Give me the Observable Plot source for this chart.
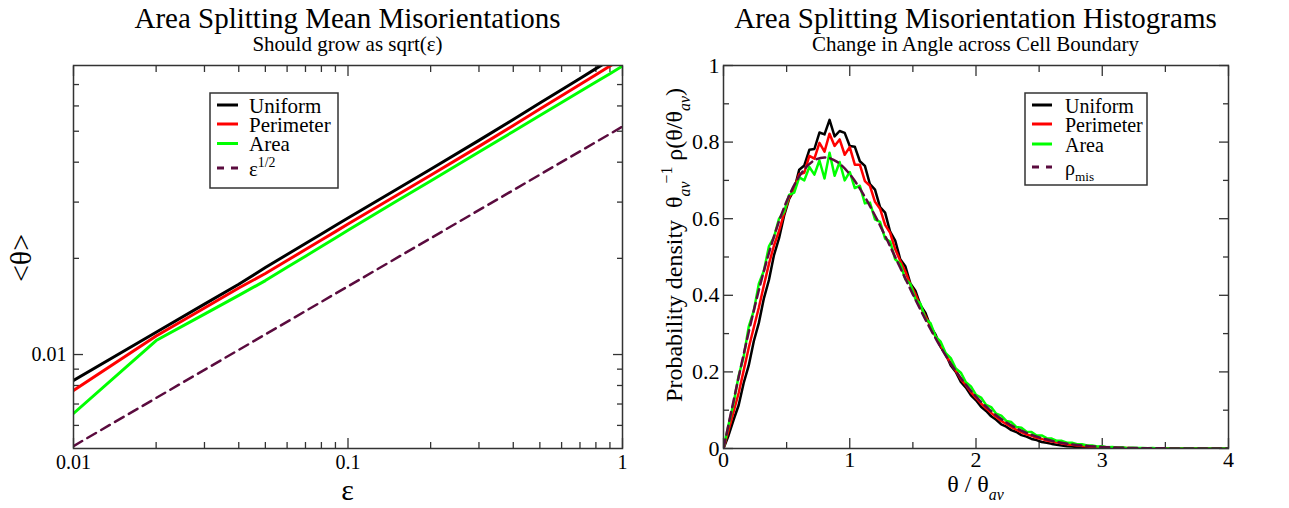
<!DOCTYPE html>
<html><head><meta charset="utf-8">
<script src="https://cdn.jsdelivr.net/npm/d3@7"></script>
<script src="https://cdn.jsdelivr.net/npm/@observablehq/plot@0.6"></script>
<style>
body{margin:0;background:#fff;}
#wrap{position:relative;width:1289px;height:508px;overflow:hidden;background:#fff;}
#left{position:absolute;left:0;top:0;}
#right{position:absolute;left:645px;top:0;}
</style></head><body><div id="wrap"><div id="left"></div><div id="right"></div></div>
<script>
const SERIF = '"Liberation Serif","Times New Roman",serif';

// ---------- Left panel data: mean misorientation vs epsilon ----------
const eps = [0.01,0.02,0.03,0.04,0.05,0.06,0.07,0.08,0.09,0.1,0.15,0.2,0.3,0.4,0.5,0.6,0.7,0.8,0.9,1.0];
const meanUniform   = [0.00829,0.01174,0.01438,0.01660,0.01872,0.02056,0.02225,0.02384,0.02534,0.02675,0.03284,0.03800,0.04682,0.05443,0.06128,0.06743,0.07314,0.07851,0.08353,0.08829];
const meanPerimeter = [0.00772,0.01143,0.01399,0.01615,0.01793,0.01969,0.02131,0.02283,0.02425,0.02562,0.03146,0.03639,0.04484,0.05213,0.05868,0.06457,0.07003,0.07516,0.07998,0.08455];
const meanArea      = [0.00654,0.01106,0.01338,0.01531,0.01704,0.01875,0.02032,0.02179,0.02317,0.02449,0.03018,0.03491,0.04303,0.04992,0.05598,0.06149,0.06655,0.07129,0.07570,0.07998];
const epsRef  = [0.01,0.1,1];
const sqrtRef = [0.00517,0.01635,0.0517];
const leftXMajor = [0.01,0.1,1];
const leftXMinor = [0.02,0.03,0.04,0.05,0.06,0.07,0.08,0.09,0.2,0.3,0.4,0.5,0.6,0.7,0.8,0.9];
const leftYMajor = [0.01];
const leftYMinor = [0.006,0.007,0.008,0.009,0.02,0.03,0.04,0.05,0.06,0.07];

// ---------- Right panel data: histograms ----------
const theta = [0,0.04,0.08,0.12,0.16,0.2,0.24,0.28,0.32,0.36,
  0.4,0.44,0.48,0.52,0.56,0.6,0.64,0.68,0.72,0.76,
  0.8,0.84,0.88,0.92,0.96,1,1.04,1.08,1.12,1.16,
  1.2,1.24,1.28,1.32,1.36,1.4,1.44,1.48,1.52,1.56,
  1.6,1.64,1.68,1.72,1.76,1.8,1.84,1.88,1.92,1.96,
  2,2.04,2.08,2.12,2.16,2.2,2.24,2.28,2.32,2.36,
  2.4,2.44,2.48,2.52,2.56,2.6,2.64,2.68,2.72,2.76,
  2.8,2.84,2.88,2.92,2.96,3,3.04,3.08,3.12,3.16,
  3.2,3.24,3.28,3.32,3.36,3.4,3.44,3.48,3.52,3.56,
  3.6,3.64,3.68,3.72,3.76,3.8,3.84,3.88,3.92,3.96,4];
const histUniform = [0,0.034,0.075,0.113,0.171,0.217,0.280,0.328,0.392,0.440,
  0.505,0.549,0.608,0.652,0.676,0.728,0.739,0.780,0.782,0.825,
  0.820,0.858,0.815,0.829,0.824,0.790,0.788,0.750,0.738,0.690,
  0.676,0.630,0.616,0.566,0.543,0.494,0.476,0.431,0.412,0.374,
  0.354,0.318,0.297,0.265,0.247,0.217,0.200,0.174,0.159,0.139,
  0.126,0.109,0.098,0.084,0.075,0.063,0.057,0.048,0.043,0.035,
  0.031,0.025,0.022,0.017,0.015,0.012,0.010,0.008,0.006,0.005,
  0.004,0.003,0.002,0.002,0.001,0.001,0,0,0,0,
  0,0,0,0,0,0,0,0,0,0,
  0,0,0,0,0,0,0,0,0,0,0];
const histPerimeter = [0,0.048,0.096,0.145,0.204,0.263,0.316,0.368,0.426,0.482,
  0.530,0.568,0.614,0.655,0.680,0.716,0.720,0.764,0.757,0.798,
  0.775,0.822,0.790,0.807,0.767,0.787,0.741,0.741,0.698,0.686,
  0.644,0.626,0.584,0.563,0.520,0.490,0.462,0.428,0.403,0.371,
  0.345,0.320,0.292,0.269,0.244,0.222,0.203,0.181,0.165,0.147,
  0.132,0.118,0.105,0.093,0.082,0.072,0.064,0.056,0.049,0.043,
  0.037,0.033,0.028,0.025,0.021,0.018,0.016,0.013,0.011,0.0095,
  0.008,0.0068,0.0056,0.0044,0.0037,0.003,0.0026,0.0022,0.0018,0.0014,
  0.001,0.0008,0.0006,0.0004,0.0003,0.0002,0,0,0,0,
  0,0,0,0,0,0,0,0,0,0,0];
const histArea = [0,0.062,0.118,0.190,0.240,0.318,0.360,0.430,0.464,0.528,
  0.552,0.600,0.618,0.662,0.668,0.708,0.700,0.735,0.715,0.752,
  0.705,0.772,0.712,0.748,0.700,0.722,0.680,0.686,0.640,0.642,
  0.598,0.592,0.548,0.540,0.494,0.482,0.442,0.430,0.390,0.378,
  0.338,0.327,0.292,0.279,0.249,0.236,0.209,0.198,0.173,0.162,
  0.140,0.133,0.114,0.108,0.091,0.086,0.072,0.069,0.056,0.054,
  0.044,0.043,0.034,0.034,0.027,0.026,0.020,0.020,0.015,0.015,
  0.011,0.011,0.008,0.008,0.005,0.006,0.003,0.004,0.002,0.003,
  0.001,0.002,0.001,0.0015,0.0005,0.001,0,0.0005,0,0,
  0,0,0.0005,0,0,0,0,0,0,0,0];
const rhoTheta = [0,0.1,0.2,0.3,0.4,0.5,0.6,0.7,0.8,0.9,1,1.1,1.2,1.3,1.4,1.5,1.6,1.7,1.8,1.9,2,
  2.1,2.2,2.3,2.4,2.5,2.6,2.7,2.8,2.9,3,3.1,3.2,3.3,3.4,3.5,3.6,3.7,3.8,3.9,4];
const rhoMis = [0,0.1559,0.3044,0.4391,0.5541,0.6454,0.7104,0.7483,0.7601,0.7483,
  0.7162,0.6680,0.6083,0.5416,0.4718,0.4025,0.3365,0.2759,0.2220,0.1752,
  0.1358,0.1033,0.0772,0.0567,0.0409,0.0290,0.0202,0.0138,0.0093,0.0062,
  0.0040,0.0026,0.0016,0.0010,0.0006,0.0004,0.0002,0.0001,0.0001,0,0];
const rightXMajor = [0,1,2,3,4];
const rightXMinor = [0.5,1.5,2.5,3.5];
const rightYMajor = [0,0.2,0.4,0.6,0.8,1];
const rightYMinor = [0.1,0.3,0.5,0.7,0.9];

const MAROON = "#5a0b3e";
const FRAME = "#333";

function zip(xs, ys) { return xs.map((x, i) => ({x, y: ys[i]})); }

function inwardTicks(xMaj, xMin, yMaj, yMin) {
  const o = {stroke: FRAME, strokeWidth: 1.3, tickFormat: () => "", label: null};
  const m = [];
  for (const a of ["bottom", "top"]) {
    m.push(Plot.axisX(xMaj, {...o, anchor: a, tickSize: -10}));
    m.push(Plot.axisX(xMin, {...o, anchor: a, tickSize: -6}));
  }
  for (const a of ["left", "right"]) {
    m.push(Plot.axisY(yMaj, {...o, anchor: a, tickSize: -10}));
    m.push(Plot.axisY(yMin, {...o, anchor: a, tickSize: -6}));
  }
  return m;
}

function rich(sel, parts, {x, y, size, anchor = "start", rotate = 0}) {
  const t = sel.append("text")
    .attr("transform", `translate(${x},${y}) rotate(${rotate})`)
    .attr("text-anchor", anchor).attr("font-size", size)
    .attr("font-family", SERIF).attr("fill", "black");
  let shift = 0;
  for (const p of parts) {
    const ts = t.append("tspan").text(p.t);
    const target = p.sub ? 0.32 * size : p.sup ? -0.42 * size : 0;
    ts.attr("dy", target - shift); shift = target;
    if (p.sub || p.sup) ts.attr("font-size", size * 0.66);
    if (p.italic) ts.attr("font-style", "italic");
    if (p.dx) ts.attr("dx", p.dx);
  }
  return t;
}

function legend(svg, {x0, y0, w, h, lx0, lx1, tx, rows, size}) {
  const g = svg.append("g");
  g.append("rect").attr("x", x0).attr("y", y0).attr("width", w).attr("height", h)
    .attr("fill", "white").attr("stroke", FRAME).attr("stroke-width", 1.5);
  for (const r of rows) {
    g.append("line").attr("x1", lx0).attr("x2", lx1).attr("y1", r.y).attr("y2", r.y)
      .attr("stroke", r.color).attr("stroke-width", 3)
      .attr("stroke-dasharray", r.dash ? "7,7" : null);
    rich(g, r.parts, {x: tx, y: r.y + 7.5, size});
  }
}

// ---------- Left chart ----------
const left = Plot.plot({
  width: 645, height: 508,
  marginLeft: 73, marginRight: 23, marginTop: 65, marginBottom: 60,
  x: {type: "log", domain: [0.01, 1]},
  y: {type: "log", domain: [0.00508, 0.0803]},
  style: {fontFamily: SERIF, color: "black", background: "white"},
  marks: [
    ...inwardTicks(leftXMajor, leftXMinor, leftYMajor, leftYMinor),
    Plot.axisX(leftXMajor, {anchor: "bottom", tickSize: 0, tickPadding: 6, fontSize: 20, tickFormat: d => String(d), label: null}),
    Plot.axisY(leftYMajor, {anchor: "left", tickSize: 0, tickPadding: 7, fontSize: 20, tickFormat: d => String(d), label: null}),
    Plot.line(zip(eps, meanUniform), {x: "x", y: "y", stroke: "black", strokeWidth: 3, clip: true}),
    Plot.line(zip(eps, meanPerimeter), {x: "x", y: "y", stroke: "#ff0000", strokeWidth: 3, clip: true}),
    Plot.line(zip(eps, meanArea), {x: "x", y: "y", stroke: "#00ff00", strokeWidth: 3, clip: true}),
    Plot.line(zip(epsRef, sqrtRef), {x: "x", y: "y", stroke: MAROON, strokeWidth: 2.5, strokeDasharray: "10,6", clip: true}),
    Plot.frame({stroke: FRAME, strokeWidth: 1.5})
  ]
});
document.getElementById("left").append(left);
{
  const s = d3.select(left);
  rich(s, [{t: "Area Splitting Mean Misorientations"}], {x: 347.5, y: 28, size: 29, anchor: "middle"});
  rich(s, [{t: "Should grow as sqrt(ε)"}], {x: 347.5, y: 51, size: 21, anchor: "middle"});
  rich(s, [{t: "ε"}], {x: 347.5, y: 500, size: 30, anchor: "middle"});
  rich(s, [{t: "<θ>"}], {x: 31, y: 258, size: 30, anchor: "middle", rotate: -90});
  legend(s, {x0: 210, y0: 93, w: 128, h: 95, lx0: 217, lx1: 238, tx: 249, size: 21, rows: [
    {y: 105, color: "black", parts: [{t: "Uniform"}]},
    {y: 124, color: "#ff0000", parts: [{t: "Perimeter"}]},
    {y: 143.5, color: "#00ff00", parts: [{t: "Area"}]},
    {y: 168, color: MAROON, dash: true, parts: [{t: "ε"}, {t: "1/2", sup: true}]}
  ]});
}

// ---------- Right chart ----------
const right = Plot.plot({
  width: 644, height: 508,
  marginLeft: 78, marginRight: 61, marginTop: 65, marginBottom: 60,
  x: {domain: [0, 4]},
  y: {domain: [0, 1]},
  style: {fontFamily: SERIF, color: "black", background: "white"},
  marks: [
    ...inwardTicks(rightXMajor, rightXMinor, rightYMajor, rightYMinor),
    Plot.axisX(rightXMajor, {anchor: "bottom", tickSize: 0, tickPadding: 3, fontSize: 22, tickFormat: d => String(d), label: null}),
    Plot.axisY(rightYMajor, {anchor: "left", tickSize: 0, tickPadding: 4, fontSize: 22, tickFormat: d => String(d), label: null}),
    Plot.line(zip(theta, histUniform), {x: "x", y: "y", stroke: "black", strokeWidth: 2.5, clip: true}),
    Plot.line(zip(theta, histPerimeter), {x: "x", y: "y", stroke: "#ff0000", strokeWidth: 2.5, clip: true}),
    Plot.line(zip(theta, histArea), {x: "x", y: "y", stroke: "#00ff00", strokeWidth: 2.5, clip: true}),
    Plot.line(zip(rhoTheta, rhoMis), {x: "x", y: "y", stroke: MAROON, strokeWidth: 2.5, strokeDasharray: "9,5", curve: "monotone-x", clip: true}),
    Plot.frame({stroke: FRAME, strokeWidth: 1.5})
  ]
});
document.getElementById("right").append(right);
{
  const s = d3.select(right);
  rich(s, [{t: "Area Splitting Misorientation Histograms"}], {x: 330.5, y: 28, size: 29, anchor: "middle"});
  rich(s, [{t: "Change in Angle across Cell Boundary"}], {x: 330.5, y: 51, size: 21, anchor: "middle"});
  rich(s, [{t: "θ / θ"}, {t: "av", sub: true, italic: true}], {x: 330.5, y: 492, size: 24, anchor: "middle"});
  rich(s, [{t: "Probability density  θ"}, {t: "av", sub: true, italic: true}, {t: "−1", sup: true, dx: -2}, {t: " ρ(θ/θ"}, {t: "av", sub: true, italic: true}, {t: ")"}],
    {x: 37, y: 245, size: 24, anchor: "middle", rotate: -90});
  legend(s, {x0: 380, y0: 93, w: 122, h: 92, lx0: 387, lx1: 407, tx: 420, size: 20, rows: [
    {y: 105, color: "black", parts: [{t: "Uniform"}]},
    {y: 124, color: "#ff0000", parts: [{t: "Perimeter"}]},
    {y: 144, color: "#00ff00", parts: [{t: "Area"}]},
    {y: 167, color: MAROON, dash: true, parts: [{t: "ρ"}, {t: "mis", sub: true}]}
  ]});
}
</script></body></html>
